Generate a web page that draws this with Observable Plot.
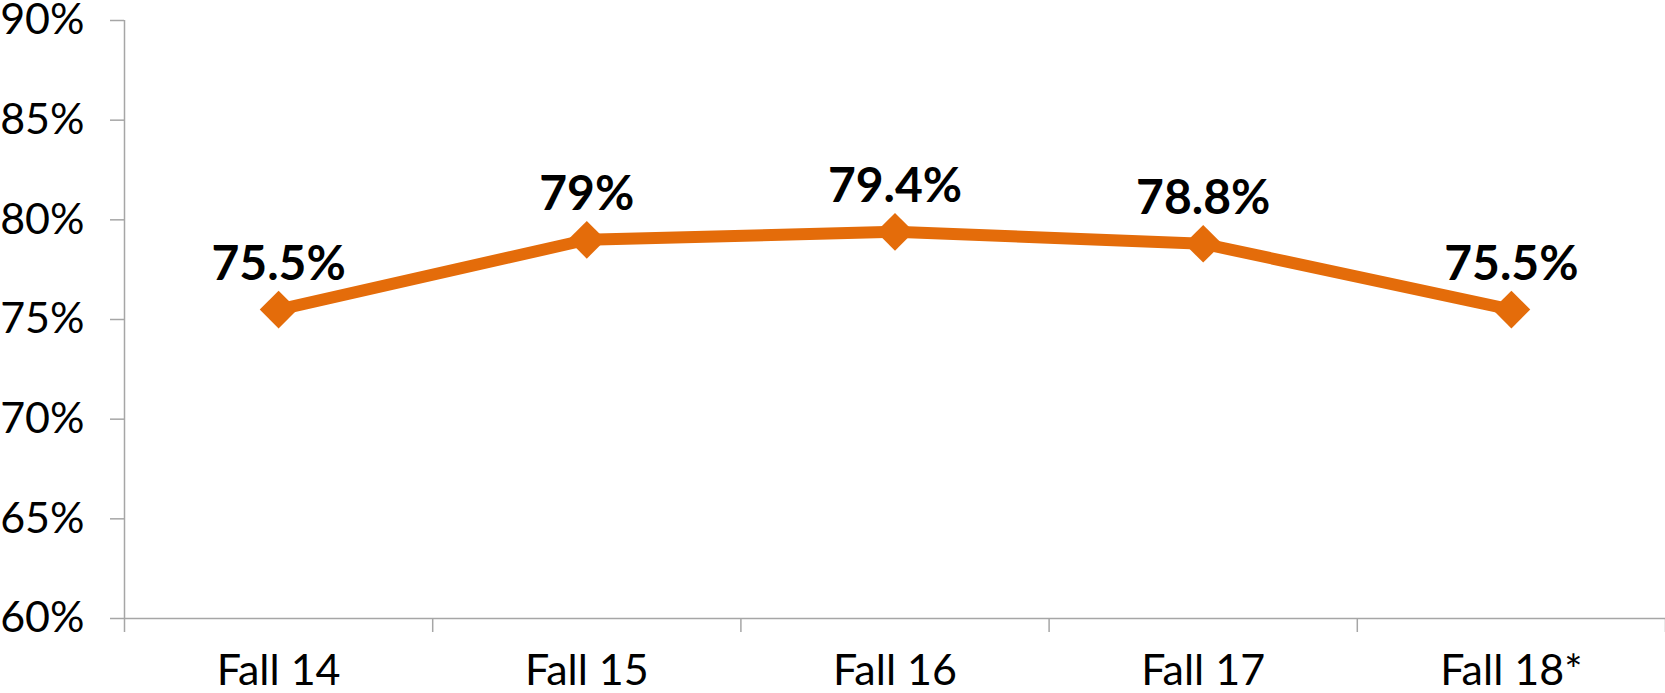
<!DOCTYPE html>
<html><head><meta charset="utf-8">
<script src="https://cdn.jsdelivr.net/npm/d3@7"></script>
<script src="https://cdn.jsdelivr.net/npm/@observablehq/plot@0.6"></script>
<style>body{margin:0;background:#fff}</style>
</head><body><div id="chart"></div>
<script>
const categories = ["Fall 14", "Fall 15", "Fall 16", "Fall 17", "Fall 18*"];
const values = [75.5, 79, 79.4, 78.8, 75.5];
const labels = ["75.5%", "79%", "79.4%", "78.8%", "75.5%"];
const yTicks = [60, 65, 70, 75, 80, 85, 90];

const data = categories.map((c, i) => ({pos: i + 0.5, category: c, value: values[i], label: labels[i]}));
const boundaries = d3.range(categories.length + 1);
const orange = "#E46C0A";
const gray = "#A6A6A6";

const plot = Plot.plot({
  width: 1665, height: 693,
  marginLeft: 124, marginRight: 0, marginTop: 20, marginBottom: 75,
  style: {fontFamily: "Lato", background: "#fff", color: "#000", overflow: "visible"},
  x: {domain: [0, categories.length], axis: null},
  y: {domain: [60, 90], axis: null},
  marks: [
    Plot.ruleY([60], {stroke: gray, strokeWidth: 1.5}),
    Plot.ruleX([0], {y1: 60, y2: 90, stroke: gray, strokeWidth: 1.5}),
    Plot.axisX({ticks: boundaries, tickFormat: () => "", tickSize: 14, stroke: gray, strokeWidth: 1.5, label: null}),
    Plot.axisX({ticks: data.map(d => d.pos), tickFormat: p => categories[Math.floor(p)], tickSize: 0, tickPadding: 36, fontSize: 43, fill: "#000", label: null}),
    Plot.axisY({ticks: yTicks, tickFormat: d => d + "%", tickSize: 14, tickPadding: 26, stroke: gray, strokeWidth: 1.5, fontSize: 43, fill: "#000", label: null}),
    Plot.line(data, {x: "pos", y: "value", stroke: orange, strokeWidth: 12}),
    Plot.dot(data, {x: "pos", y: "value", symbol: "diamond2", r: 17, fill: orange, stroke: "none"}),
    Plot.text(data, {x: "pos", y: "value", text: "label", dy: -30, lineAnchor: "bottom", fontSize: 48, fontWeight: "bold", fill: "#000"})
  ]
});
document.getElementById("chart").appendChild(plot);
</script>
</body></html>
